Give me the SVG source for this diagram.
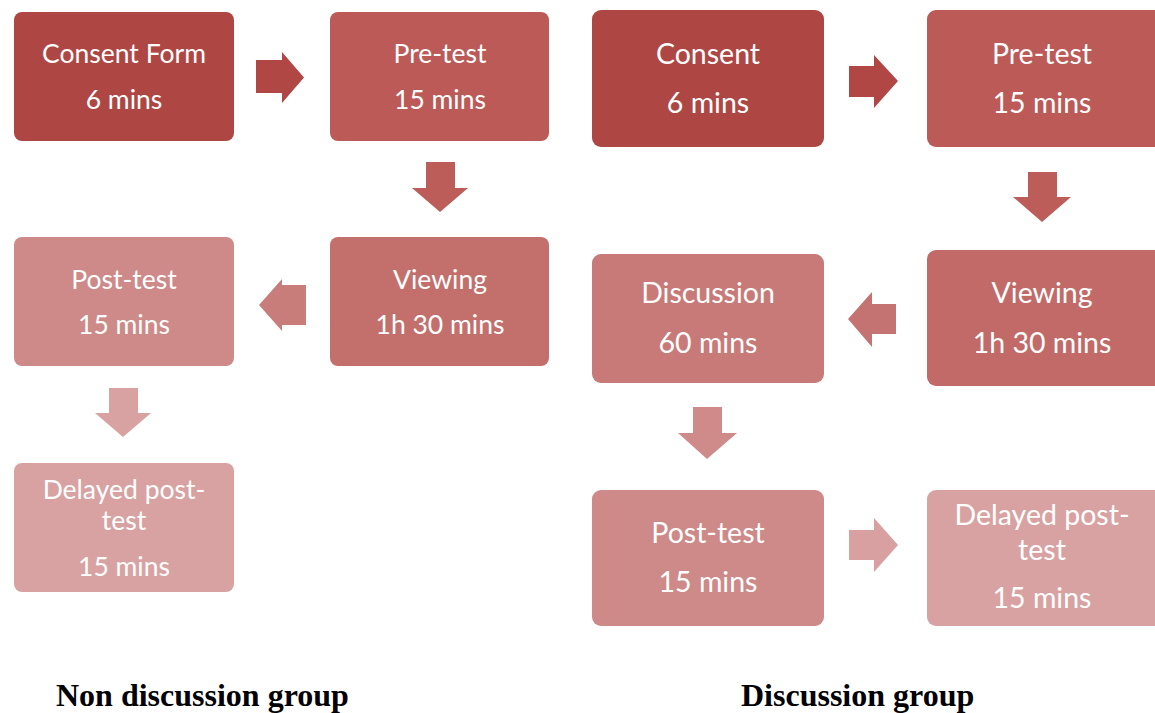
<svg xmlns="http://www.w3.org/2000/svg" width="1155" height="713" viewBox="0 0 1155 713">
<style>
.t{font-family:Lato,"Open Sans","Liberation Sans",sans-serif;fill:#fff;text-anchor:middle;dominant-baseline:central}
.s{font-size:26.5px}
.b{font-size:28.5px}
.lbl{font-family:"Liberation Serif","Times New Roman",serif;font-weight:bold;font-size:32px;fill:#000}
</style>
<rect width="1155" height="713" fill="#fff"/>
<g id="connectors">
<path d="M256 60H282V52L304 77.5L282 103V93H256Z" fill="#B04744"/>
<path d="M426 162H455V188H468L440 212L412 188H426Z" fill="#BD5D5A"/>
<path d="M306 285H282V279L259 305L282 331V325H306Z" fill="#C87D7B"/>
<path d="M109 388H138V413H151L123 437L95 413H109Z" fill="#D9A2A2"/>
<path d="M849 66H874V55L898 81L874 108V97H849Z" fill="#B04744"/>
<path d="M1028 172H1057V197H1071L1042 222L1013 197H1028Z" fill="#BD5D5A"/>
<path d="M896 304H872V292L848 319L872 347V334H896Z" fill="#C57372"/>
<path d="M693 407H722V433H737L707 459L678 433H693Z" fill="#CE8B89"/>
<path d="M849 530H874V518L898 545L874 572V560H849Z" fill="#D8A0A0"/>
</g>
<g id="n-consent-form"><rect x="14" y="12" width="220" height="129" rx="8" fill="#AE4744"/><text class="t s" x="124" y="53">Consent Form</text><text class="t s" x="124" y="99">6 mins</text></g>
<g id="n-pretest-1"><rect x="330" y="12" width="219" height="129" rx="8" fill="#BB5A57"/><text class="t s" x="440" y="53">Pre-test</text><text class="t s" x="440" y="99">15 mins</text></g>
<g id="n-viewing-1"><rect x="330" y="237" width="219" height="129" rx="8" fill="#C3706D"/><text class="t s" x="440" y="279">Viewing</text><text class="t s" x="440" y="324">1h 30 mins</text></g>
<g id="n-posttest-1"><rect x="14" y="237" width="220" height="129" rx="8" fill="#CD8A88"/><text class="t s" x="124" y="279">Post-test</text><text class="t s" x="124" y="324">15 mins</text></g>
<g id="n-delayed-1"><rect x="14" y="463" width="220" height="129" rx="8" fill="#D9A2A2"/><text class="t s" x="124" y="489">Delayed post-</text><text class="t s" x="124" y="520">test</text><text class="t s" x="124" y="566">15 mins</text></g>
<g id="n-consent-2"><rect x="592" y="10" width="232" height="137" rx="9" fill="#AE4744"/><text class="t b" x="708" y="53">Consent</text><text class="t b" x="708" y="102">6 mins</text></g>
<g id="n-pretest-2"><rect x="927" y="10" width="236" height="137" rx="9" fill="#BB5A57"/><text class="t b" x="1042" y="53">Pre-test</text><text class="t b" x="1042" y="102">15 mins</text></g>
<g id="n-viewing-2"><rect x="927" y="250" width="236" height="136" rx="9" fill="#C26A68"/><text class="t b" x="1042" y="292">Viewing</text><text class="t b" x="1042" y="342">1h 30 mins</text></g>
<g id="n-discussion"><rect x="592" y="254" width="232" height="129" rx="9" fill="#C77A78"/><text class="t b" x="708" y="292">Discussion</text><text class="t b" x="708" y="342">60 mins</text></g>
<g id="n-posttest-2"><rect x="592" y="490" width="232" height="136" rx="9" fill="#CD8A88"/><text class="t b" x="708" y="532">Post-test</text><text class="t b" x="708" y="581">15 mins</text></g>
<g id="n-delayed-2"><rect x="927" y="490" width="236" height="136" rx="9" fill="#D9A2A2"/><text class="t b" x="1042" y="514">Delayed post-</text><text class="t b" x="1042" y="549">test</text><text class="t b" x="1042" y="597">15 mins</text></g>
<text class="lbl" x="56" y="706">Non discussion group</text>
<text class="lbl" x="741" y="706">Discussion group</text>
</svg>
